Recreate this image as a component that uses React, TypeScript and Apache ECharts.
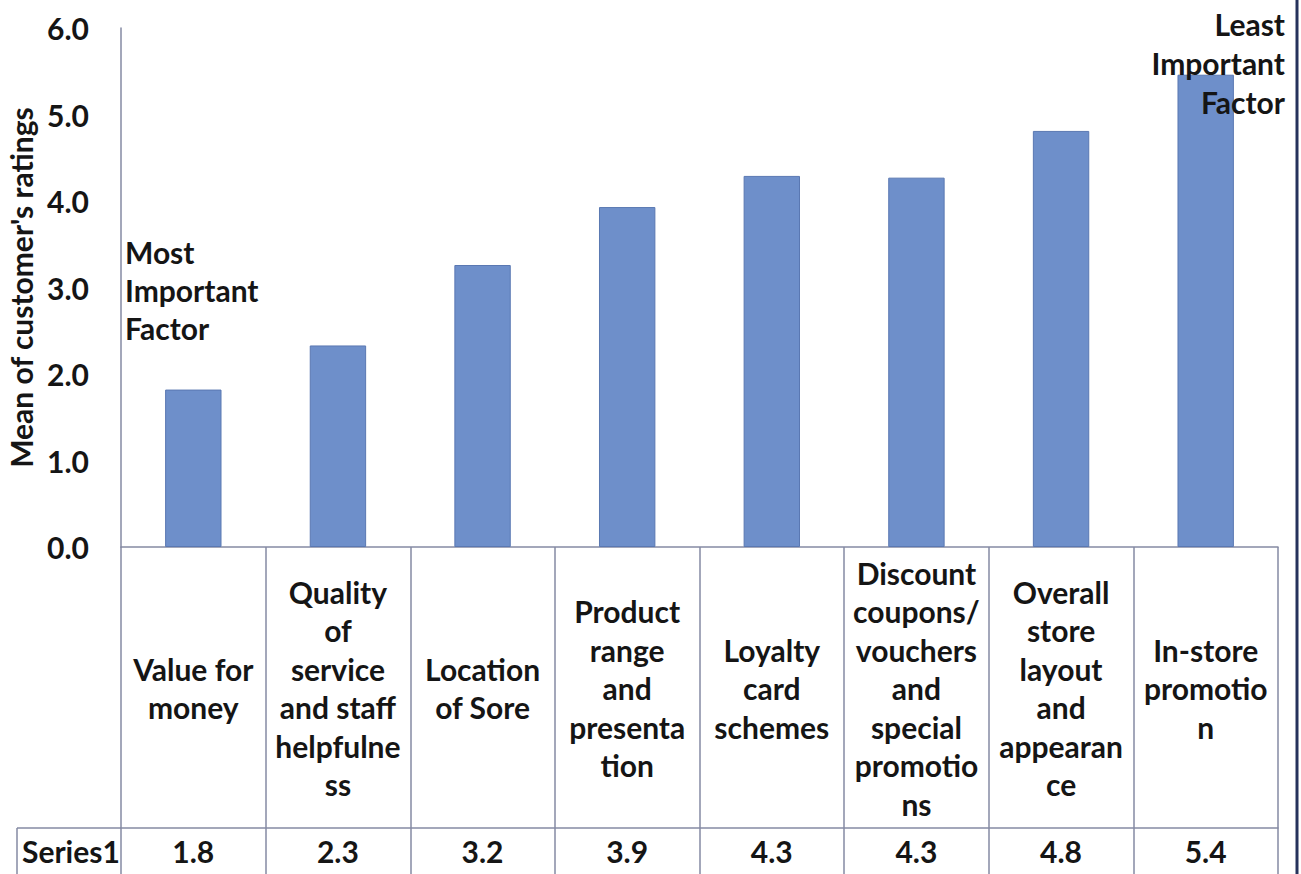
import React, { useEffect, useRef } from "react";
import * as echarts from "echarts";

const categories: string[] = [
  "Value for\nmoney",
  "Quality\nof\nservice\nand staff\nhelpfulne\nss",
  "Location\nof Sore",
  "Product\nrange\nand\npresenta\ntion",
  "Loyalty\ncard\nschemes",
  "Discount\ncoupons/\nvouchers\nand\nspecial\npromotio\nns",
  "Overall\nstore\nlayout\nand\nappearan\nce",
  "In-store\npromotio\nn",
];

// Bar heights
const ratings: number[] = [1.82, 2.33, 3.26, 3.93, 4.29, 4.27, 4.81, 5.46];

// Values printed in the data table row
const tableValues: string[] = ["1.8", "2.3", "3.2", "3.9", "4.3", "4.3", "4.8", "5.4"];

const seriesName = "Series1";
const yAxisName = "Mean of customer's ratings";
const mostLabel = "Most\nImportant\nFactor";
const leastLabel = "Least\nImportant\nFactor";

const FONT = "Lato";
const FS = 30;
const TXT = "#151515";
const LINE = "#858aa3";

export default function App() {
  const ref = useRef<HTMLDivElement>(null);

  useEffect(() => {
    if (!ref.current) return;
    const chart = echarts.init(ref.current, undefined, { renderer: "svg" });
    const textBase = {
      fontFamily: FONT,
      fontWeight: "bold" as const,
      fontSize: FS,
      color: TXT,
    };
    chart.setOption({
      animation: false,
      backgroundColor: "#ffffff",
      grid: {
        left: 121,
        right: 23,
        top: 28,
        bottom: 327,
        containLabel: false,
        outerBoundsMode: "none",
      },
      xAxis: [
        {
          type: "category",
          data: categories,
          position: "bottom",
          axisLine: { show: true, lineStyle: { color: LINE, width: 1.5 } },
          axisTick: {
            show: true,
            length: 327,
            interval: 0,
            lineStyle: { color: LINE, width: 1.5 },
          },
          axisLabel: {
            ...textBase,
            interval: 0,
            margin: 141,
            verticalAlign: "middle",
            align: "center",
            lineHeight: 38.5,
          },
          splitLine: { show: false },
        },
        {
          type: "category",
          data: tableValues,
          position: "bottom",
          offset: 281,
          axisLine: { show: true, lineStyle: { color: LINE, width: 1.5 } },
          axisTick: { show: false },
          axisLabel: {
            ...textBase,
            interval: 0,
            margin: 23,
            verticalAlign: "middle",
            align: "center",
          },
          splitLine: { show: false },
        },
      ],
      yAxis: {
        type: "value",
        min: 0,
        max: 6,
        interval: 1,
        name: yAxisName,
        nameLocation: "middle",
        nameGap: 84,
        nameTextStyle: { ...textBase },
        axisLine: { show: true, lineStyle: { color: LINE, width: 1.5 } },
        axisTick: { show: false },
        splitLine: { show: false },
        axisLabel: {
          ...textBase,
          margin: 32,
          formatter: (v: number) => v.toFixed(1),
        },
      },
      series: [
        {
          name: seriesName,
          type: "bar",
          xAxisIndex: 0,
          data: ratings,
          barWidth: "39%",
          itemStyle: { color: "#6e8fca", borderColor: "#5a78b2", borderWidth: 1 },
        },
      ],
      graphic: [
        {
          type: "line",
          z: 50,
          shape: { x1: 17, y1: 828, x2: 121, y2: 828 },
          style: { stroke: LINE, lineWidth: 1.5 },
        },
        {
          type: "line",
          z: 50,
          shape: { x1: 17, y1: 828, x2: 17, y2: 874 },
          style: { stroke: LINE, lineWidth: 1.5 },
        },
        {
          type: "text",
          z: 50,
          style: {
            text: seriesName,
            x: 22,
            y: 851,
            fontFamily: FONT,
            fontWeight: "bold",
            fontSize: FS,
            fill: TXT,
            verticalAlign: "middle",
            align: "left",
          },
        },
        {
          type: "text",
          z: 100,
          style: {
            text: mostLabel,
            x: 125,
            y: 233,
            fontFamily: FONT,
            fontWeight: "bold",
            fontSize: FS,
            lineHeight: 38,
            fill: TXT,
            verticalAlign: "top",
            align: "left",
          },
        },
        {
          type: "text",
          z: 100,
          style: {
            text: leastLabel,
            x: 1285,
            y: 4,
            fontFamily: FONT,
            fontWeight: "bold",
            fontSize: FS,
            lineHeight: 39,
            fill: TXT,
            verticalAlign: "top",
            align: "right",
          },
        },
        {
          type: "line",
          z: 100,
          shape: { x1: 1297, y1: 0, x2: 1297, y2: 874 },
          style: { stroke: "#26325c", lineWidth: 3 },
        },
      ],
    });
    return () => chart.dispose();
  }, []);

  return (
    <div
      ref={ref}
      style={{ position: "fixed", left: 0, top: 0, width: 1301, height: 874, background: "#fff" }}
    />
  );
}
